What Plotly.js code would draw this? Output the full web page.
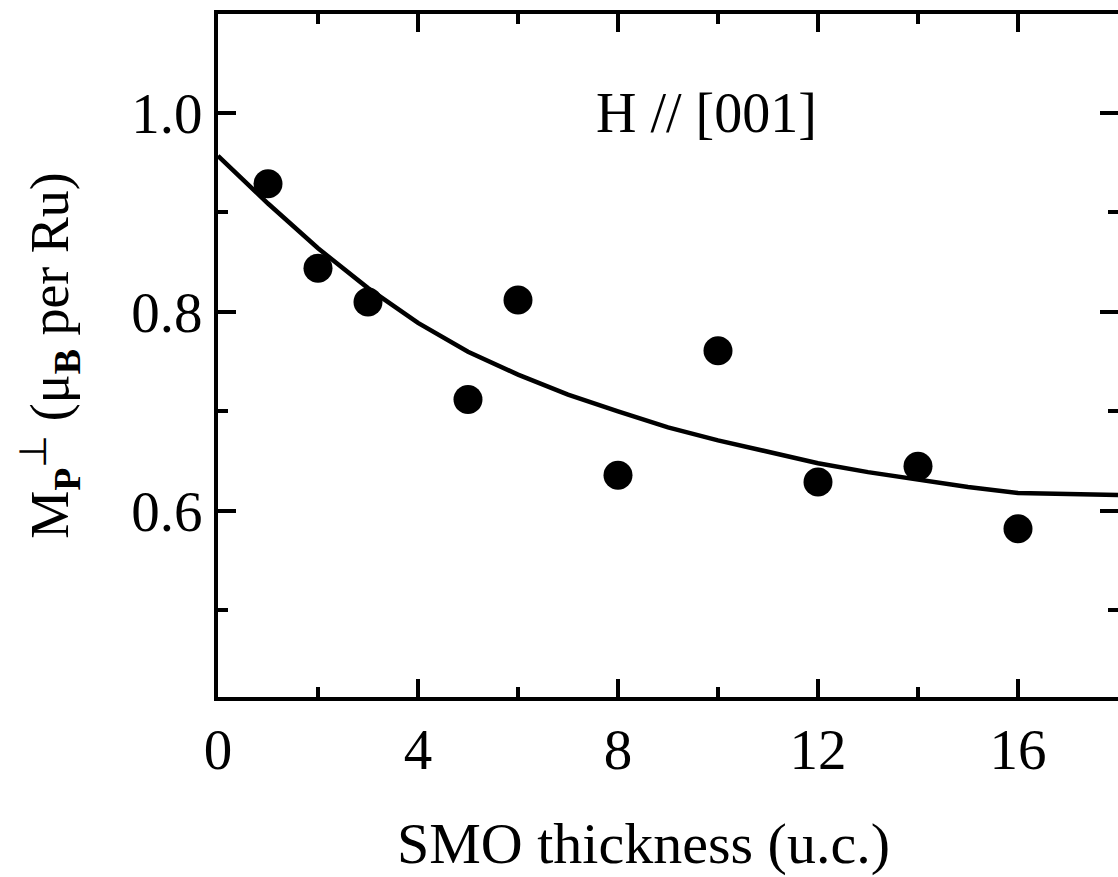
<!DOCTYPE html>
<html>
<head>
<meta charset="utf-8">
<script src="https://cdn.plot.ly/plotly-3.0.1.min.js"></script>
<style>
  html, body { margin: 0; padding: 0; background: #fff; }
  #chart { width: 1118px; height: 877px; }
</style>
</head>
<body>
<div id="chart"></div>
<script>
// Measured data points
const thickness = [1, 2, 3, 5, 6, 8, 10, 12, 14, 16];
const moment = [0.929, 0.844, 0.810, 0.712, 0.812, 0.636, 0.761, 0.629, 0.645, 0.582];

// Fit curve
const fitX = [0, 1, 2, 3, 4, 5, 6, 7, 8, 9, 10, 11, 12, 13, 14, 15, 16, 18];
const fitY = [0.957, 0.909, 0.864, 0.824, 0.789, 0.760, 0.737, 0.717, 0.700, 0.684, 0.671, 0.659, 0.648, 0.639, 0.631, 0.624, 0.618, 0.616];

const xTickVals = [0, 4, 8, 12, 16];
const yTickVals = [0.6, 0.8, 1.0];
const yTickText = ['0.6', '0.8', '1.0'];

const FONT = 'Liberation Serif, Times New Roman, serif';

const traces = [
  {
    x: fitX, y: fitY, type: 'scatter', mode: 'lines',
    line: { color: '#000', width: 4.5 },
    hoverinfo: 'skip', showlegend: false
  },
  {
    x: thickness, y: moment, type: 'scatter', mode: 'markers',
    marker: { color: '#000', size: 29 },
    showlegend: false
  }
];

const axisCommon = {
  showgrid: false, zeroline: false,
  showline: true, linecolor: '#000', linewidth: 4,
  mirror: 'ticks',
  ticks: 'inside', ticklen: 18, tickwidth: 4, tickcolor: '#000',
  tickfont: { family: FONT, size: 57, color: '#000' }
};

const layout = {
  width: 1118, height: 877,
  margin: { l: 218, r: 0, t: 14, b: 180 },
  paper_bgcolor: '#fff', plot_bgcolor: '#fff',
  showlegend: false,
  xaxis: Object.assign({}, axisCommon, {
    range: [0, 18],
    tickmode: 'array', tickvals: xTickVals, ticktext: xTickVals.map(String),
    minor: { dtick: 2, tick0: 0, ticks: 'inside', ticklen: 10, tickwidth: 4, tickcolor: '#000', showgrid: false }
  }),
  yaxis: Object.assign({}, axisCommon, {
    range: [0.413, 1.0995],
    tickmode: 'array', tickvals: yTickVals, ticktext: yTickText,
    minor: { dtick: 0.1, tick0: 0, ticks: 'inside', ticklen: 10, tickwidth: 4, tickcolor: '#000', showgrid: false },
    title: { text: 'M<sub><b>P</b></sub><sup>⊥</sup> (μ<sub><b>B</b></sub> per Ru)', font: { family: FONT, size: 54, color: '#000' }, standoff: 46 }
  }),
  annotations: [
    {
      x: 9.77, y: 1.0, xref: 'x', yref: 'y',
      text: 'H // [001]', showarrow: false,
      font: { family: FONT, size: 56, color: '#000' },
      xanchor: 'center', yanchor: 'middle'
    },
    {
      x: 0.4733, y: -0.2138, xref: 'paper', yref: 'paper',
      text: 'SMO thickness (u.c.)', showarrow: false,
      font: { family: FONT, size: 58, color: '#000' },
      xanchor: 'center', yanchor: 'middle'
    }
  ]
};

Plotly.newPlot('chart', traces, layout, { displayModeBar: false, staticPlot: true });
</script>
</body>
</html>
